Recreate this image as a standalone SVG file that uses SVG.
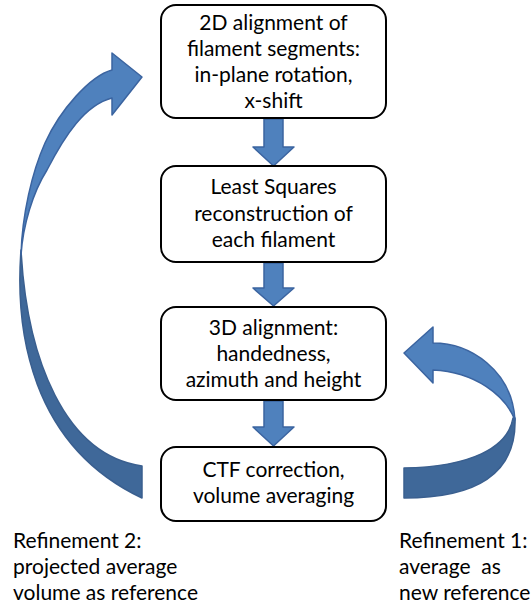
<svg xmlns="http://www.w3.org/2000/svg" width="531" height="604" viewBox="0 0 531 604">
<style>
.box{fill:#fff;stroke:#000;stroke-width:2}
.t{font-family:Lato,"Liberation Sans",sans-serif;font-size:21px;fill:#000;text-anchor:middle}
.l{font-family:Lato,"Liberation Sans",sans-serif;font-size:21px;fill:#000}
.arr{fill:#4F81BD;stroke:#3B64A0;stroke-width:1.5;stroke-linejoin:round}
.dark{fill:#3F6899;stroke:#3A5F8F;stroke-width:1.5;stroke-linejoin:round}
</style>
<rect width="531" height="604" fill="#fff"/>
<g id="connectors">
<path class="arr" d="M264,119 H283 V147 H294 L273.5,166 L253,147 H264 Z"/>
<path class="arr" d="M264,263 H283 V288 H294 L273.5,306 L253,288 H264 Z"/>
<path class="arr" d="M264,401 H283 V427 H294 L273.5,446 L253,427 H264 Z"/>
<g id="refinement2-arrow">
<path class="dark" d="M21,250 C15,330 30,445 142,498 L142,466 C65,455 27,360 21,250 Z"/>
<path class="arr" d="M142,77 L112,53 L112,70 C90,76 60,110 45,143 C32,172 22,215 21,255 C23,225 33,192 47,170 C65,135 85,105 112,98 L112,115 Z"/>
</g>
<g id="refinement1-arrow">
<path class="dark" d="M513,418 C508,448 470,467 404,468 L404,498 C475,498 517,475 515,418 Z"/>
<path class="arr" d="M404,353 L433,327 L433,343 C470,343 512,370 515,420 C505,395 475,372 433,370 L433,383 Z"/>
</g>
</g>
<g id="node1">
<rect class="box" x="161" y="5" width="225" height="113" rx="15"/>
<text class="t" x="273.5" y="30">2D alignment of</text>
<text class="t" x="273.5" y="56">filament segments:</text>
<text class="t" x="273.5" y="82">in-plane rotation,</text>
<text class="t" x="273.5" y="108">x-shift</text>
</g>
<g id="node2">
<rect class="box" x="161" y="166" width="225" height="96" rx="15"/>
<text class="t" x="273.5" y="194">Least Squares</text>
<text class="t" x="273.5" y="221">reconstruction of</text>
<text class="t" x="273.5" y="247">each filament</text>
</g>
<g id="node3">
<rect class="box" x="161" y="307" width="225" height="93" rx="15"/>
<text class="t" x="273.5" y="335">3D alignment:</text>
<text class="t" x="273.5" y="361">handedness,</text>
<text class="t" x="273.5" y="387">azimuth and height</text>
</g>
<g id="node4">
<rect class="box" x="161" y="447" width="225" height="74" rx="15"/>
<text class="t" x="273.5" y="477">CTF correction,</text>
<text class="t" x="273.5" y="503">volume averaging</text>
</g>
<g id="label-refinement2">
<text class="l" x="13" y="548">Refinement 2:</text>
<text class="l" x="13" y="574">projected average</text>
<text class="l" x="13" y="600">volume as reference</text>
</g>
<g id="label-refinement1">
<text class="l" x="399" y="548">Refinement 1:</text>
<text class="l" x="399" y="574" xml:space="preserve">average  as</text>
<text class="l" x="399" y="600">new reference</text>
</g>
</svg>
